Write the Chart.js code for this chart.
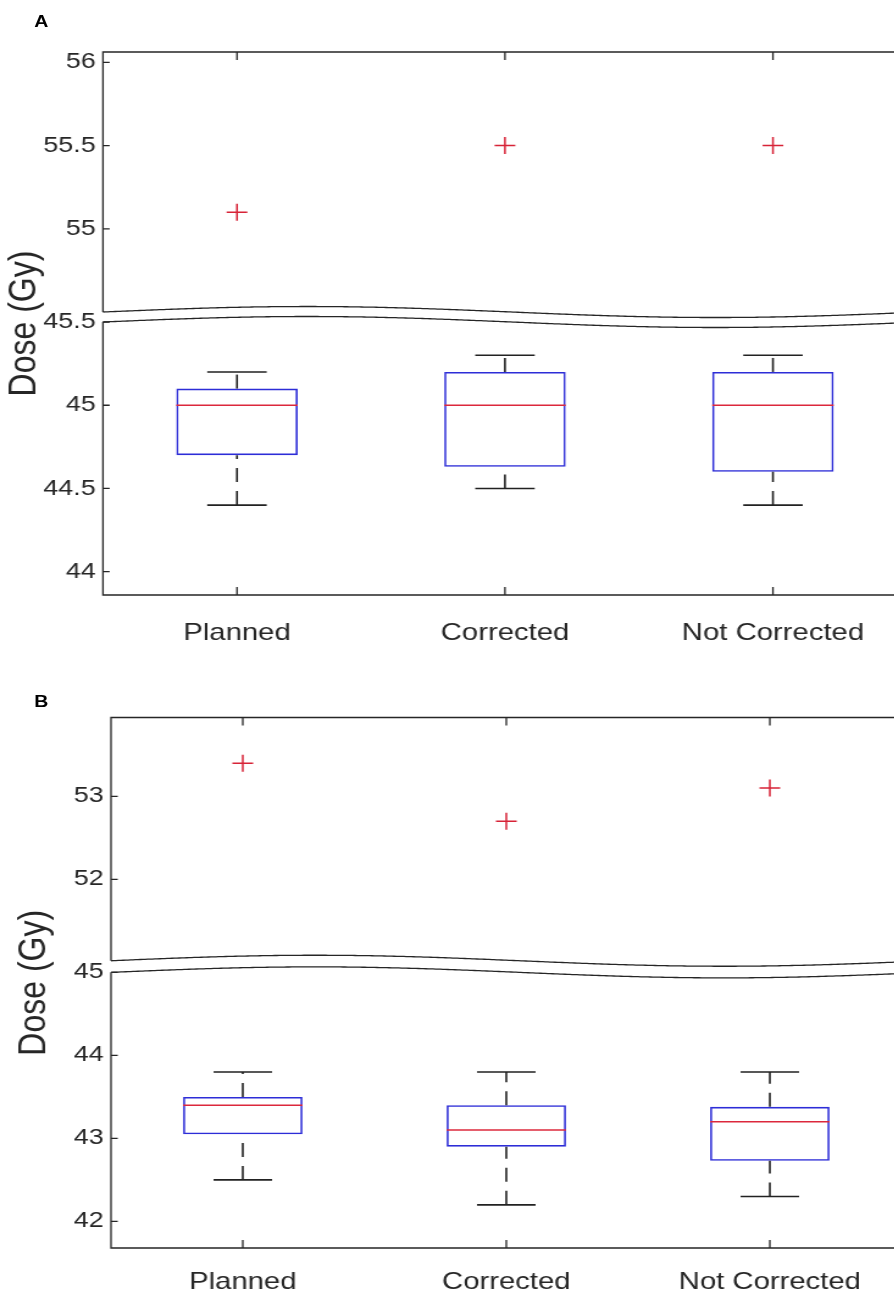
<!DOCTYPE html>
<html>
<head>
<meta charset="utf-8">
<script src="https://cdn.jsdelivr.net/npm/chart.js@4.4.1/dist/chart.umd.min.js"></script>
<style>
  html, body { margin: 0; padding: 0; background: #fff; }
  body { width: 894px; height: 1294px; overflow: hidden; position: relative; }
  /* исходная картинка растянута по горизонтали, повторяем это */
  .stretch { position: absolute; left: 0; top: 0; width: 760px; height: 1294px; transform: scaleX(1.22); transform-origin: 0 0; }
  .panel { position: absolute; left: 0; }
  .panel-label { position: absolute; left: 28px; font: bold 16px 'Liberation Sans', Arial, sans-serif; color: #000; }
</style>
</head>
<body>
<div class="stretch">
  <canvas id="chartA" class="panel" width="760" height="660" style="top:0"></canvas>
  <canvas id="chartB" class="panel" width="760" height="634" style="top:660px"></canvas>
  <div class="panel-label" style="top: 13px">A</div>
  <div class="panel-label" style="top: 693px">B</div>
</div>
<script>
const categories = ["Planned", "Corrected", "Not Corrected"];

// Панель A, доза (Gy)
const aLow = [44.4, 44.5, 44.4];
const aQ1 = [44.7, 44.63, 44.6];
const aMedian = [45.0, 45.0, 45.0];
const aQ3 = [45.1, 45.2, 45.2];
const aHigh = [45.2, 45.3, 45.3];
const aOutliers = [55.1, 55.5, 55.5];
const aTicks = [44, 44.5, 45, 45.5, 55, 55.5, 56];

// Панель B
const bLow = [42.5, 42.2, 42.3];
const bQ1 = [43.05, 42.9, 42.73];
const bMedian = [43.4, 43.1, 43.2];
const bQ3 = [43.5, 43.4, 43.38];
const bHigh = [43.8, 43.8, 43.8];
const bOutliers = [53.4, 52.7, 53.1];
const bTicks = [42, 43, 44, 45, 52, 53];

const FONT = "'Liberation Sans', Arial, sans-serif";
const AXIS_COLOR = "#262626";

// разрыв оси: всё выше highBottom сдвигается вниз к lowTop
function makeBreak(lowTop, highBottom, gap) {
  return (v) => (v <= lowTop ? v : v - highBottom + lowTop + gap);
}

const boxPlotPlugin = {
  id: "boxPlot",
  afterDatasetsDraw(chart, args, opts) {
    const { ctx, chartArea: area, scales: { x, y } } = chart;
    const bars = chart.getDatasetMeta(0).data;
    const toAxis = opts.toAxis;
    ctx.save();

    bars.forEach((bar, i) => {
      const half = bar.width / 2;
      const capHalf = half * 0.49;
      const pLow = y.getPixelForValue(toAxis(opts.low[i]));
      const pQ1 = y.getPixelForValue(toAxis(opts.q1[i]));
      const pQ3 = y.getPixelForValue(toAxis(opts.q3[i]));
      const pHigh = y.getPixelForValue(toAxis(opts.high[i]));
      const pMed = y.getPixelForValue(toAxis(opts.median[i]));

      // усы пунктиром, снизу вверх
      ctx.strokeStyle = "#222";
      ctx.lineWidth = 1.6;
      ctx.setLineDash([14, 9]);
      ctx.beginPath();
      ctx.moveTo(bar.x, pLow);
      ctx.lineTo(bar.x, pQ1);
      ctx.stroke();
      ctx.beginPath();
      ctx.moveTo(bar.x, pQ3);
      ctx.lineTo(bar.x, pHigh);
      ctx.stroke();
      ctx.setLineDash([]);

      // концы усов
      ctx.beginPath();
      ctx.moveTo(bar.x - capHalf, pLow);
      ctx.lineTo(bar.x + capHalf, pLow);
      ctx.moveTo(bar.x - capHalf, pHigh);
      ctx.lineTo(bar.x + capHalf, pHigh);
      ctx.stroke();

      // медиана
      ctx.strokeStyle = "rgb(220, 40, 60)";
      ctx.lineWidth = 1.5;
      ctx.beginPath();
      ctx.moveTo(bar.x - half, pMed);
      ctx.lineTo(bar.x + half, pMed);
      ctx.stroke();
    });

    // рамка с разрывом
    const gapHigh = y.getPixelForValue(toAxis(opts.highBottom));
    const gapLow = y.getPixelForValue(opts.lowTop);
    const right = chart.width + 2;
    ctx.strokeStyle = AXIS_COLOR;
    ctx.lineWidth = 1.3;
    ctx.beginPath();
    ctx.moveTo(right, area.top);
    ctx.lineTo(area.left, area.top);
    ctx.lineTo(area.left, gapHigh);
    ctx.moveTo(area.left, gapLow);
    ctx.lineTo(area.left, area.bottom);
    ctx.lineTo(right, area.bottom);
    ctx.stroke();

    // волнистые линии разрыва
    [gapHigh, gapLow].forEach((base) => {
      ctx.beginPath();
      for (let px = area.left; px <= right; px += 2) {
        const py = base - 5.5 * Math.sin((2 * Math.PI * (px - area.left)) / 670);
        if (px === area.left) ctx.moveTo(px, py);
        else ctx.lineTo(px, py);
      }
      ctx.stroke();
    });

    // засечки внутрь
    ctx.beginPath();
    y.ticks.forEach((t) => {
      const p = y.getPixelForValue(t.value);
      ctx.moveTo(area.left, p);
      ctx.lineTo(area.left + 5.5, p);
    });
    categories.forEach((c, i) => {
      const p = x.getPixelForValue(i);
      ctx.moveTo(p, area.bottom);
      ctx.lineTo(p, area.bottom - 8);
      ctx.moveTo(p, area.top);
      ctx.lineTo(p, area.top + 8);
    });
    ctx.stroke();
    ctx.restore();
  },
};

function createPanel(canvasId, d) {
  const toAxis = makeBreak(d.lowTop, d.highBottom, d.gap);
  const ctx = document.getElementById(canvasId).getContext("2d");

  return new Chart(ctx, {
    type: "bar",
    data: {
      labels: categories,
      datasets: [
        {
          type: "bar",
          data: categories.map((c, i) => [toAxis(d.q1[i]), toAxis(d.q3[i])]),
          backgroundColor: "rgba(0, 0, 0, 0)",
          borderColor: "rgb(45, 45, 215)",
          borderWidth: 1.6,
          borderSkipped: false,
          categoryPercentage: 1,
          barPercentage: 0.453,
        },
        {
          type: "line",
          data: d.outliers.map(toAxis),
          showLine: false,
          pointStyle: "cross",
          pointRadius: 8.5,
          pointHoverRadius: 8.5,
          pointBorderColor: "rgb(215, 35, 55)",
          pointBorderWidth: 1.5,
        },
      ],
    },
    options: {
      responsive: false,
      animation: false,
      layout: { padding: { top: d.padTop, right: d.padRight, left: 0, bottom: 0 } },
      plugins: {
        legend: { display: false },
        tooltip: { enabled: false },
        boxPlot: {
          toAxis,
          low: d.low,
          q1: d.q1,
          median: d.median,
          q3: d.q3,
          high: d.high,
          lowTop: d.lowTop,
          highBottom: d.highBottom,
        },
      },
      scales: {
        x: {
          type: "category",
          offset: true,
          grid: { display: false },
          border: { display: false },
          ticks: {
            color: AXIS_COLOR,
            font: { size: 24, family: FONT },
            padding: d.xPadding,
            maxRotation: 0,
            autoSkip: false,
          },
          afterFit: (scale) => {
            scale.height = d.xHeight;
          },
        },
        y: {
          type: "linear",
          min: d.min,
          max: toAxis(d.max),
          grid: { display: false, drawTicks: false },
          border: { display: false },
          afterBuildTicks: (scale) => {
            scale.ticks = d.ticks.map((v) => ({ value: toAxis(v) }));
          },
          ticks: {
            color: AXIS_COLOR,
            font: { size: 22, family: FONT },
            padding: 6,
            autoSkip: false,
            callback: (value, index) => String(d.ticks[index]),
          },
          title: {
            display: true,
            text: "Dose (Gy)",
            color: AXIS_COLOR,
            font: { size: 32, family: FONT, lineHeight: 1 },
            padding: { top: d.titlePad, bottom: 0 },
          },
          afterFit: (scale) => {
            scale.width = d.yWidth;
          },
        },
      },
    },
    plugins: [boxPlotPlugin],
  });
}

createPanel("chartA", {
  low: aLow, q1: aQ1, median: aMedian, q3: aQ3, high: aHigh,
  outliers: aOutliers, ticks: aTicks,
  lowTop: 45.5, highBottom: 54.5, gap: 0.06,
  min: 43.86, max: 56.062,
  padTop: 52, padRight: 16.6, yWidth: 84.4, xHeight: 65, xPadding: 15.6, titlePad: 4.5,
});

createPanel("chartB", {
  low: bLow, q1: bQ1, median: bMedian, q3: bQ3, high: bHigh,
  outliers: bOutliers, ticks: bTicks,
  lowTop: 45, highBottom: 51.02, gap: 0.14,
  min: 41.68, max: 53.95,
  padTop: 57.5, padRight: 21, yWidth: 91, xHeight: 46, xPadding: 11.6, titlePad: 12.5,
});
</script>
</body>
</html>
